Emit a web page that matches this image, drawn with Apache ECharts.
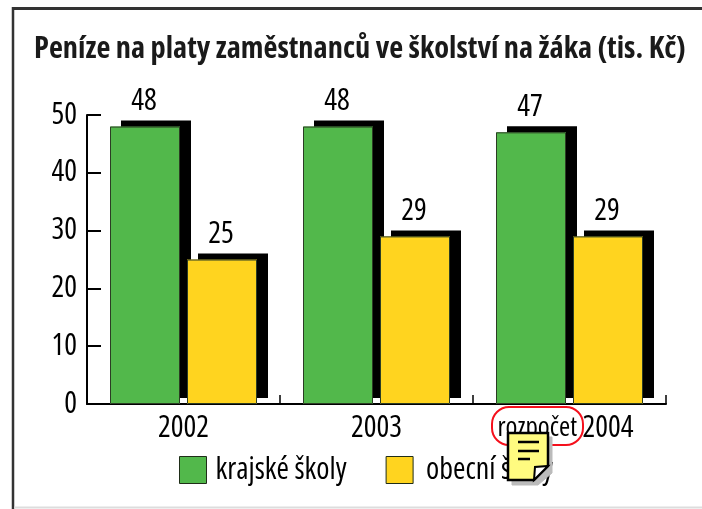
<!DOCTYPE html>
<html>
<head>
<meta charset="utf-8">
<style>html,body{margin:0;background:#fff}#chart{width:702px;height:509px}</style>
<script src="https://cdn.jsdelivr.net/npm/echarts@6/dist/echarts.min.js"></script>
</head>
<body>
<div id="chart"></div>
<script>
var years = ['2002', '2003', 'rozpočet 2004'];
var krajske = [48, 48, 47];
var obecni = [25, 29, 29];

var font = '"Open Sans", sans-serif';
var myChart = echarts.init(document.getElementById('chart'));

// stin zvlast bez ramecku, jinak by se stin ramecku kreslil pres vypln
function barStyle(color) {
    return {
        color: color,
        borderWidth: 0,
        shadowColor: '#000',
        shadowBlur: 0,
        shadowOffsetX: 11,
        shadowOffsetY: -6
    };
}

function valueLabel() {
    return { show: true, position: 'top', distance: 10, fontFamily: font, fontWeight: 'condensed', fontSize: 30, color: '#000', offset: [-1, 0] };
}

function outline(values) {
    return {
        type: 'bar',
        xAxisIndex: 1,
        barWidth: 70,
        barGap: '10%',
        silent: true,
        data: values,
        itemStyle: { color: 'transparent', borderColor: '#2c3d24', borderWidth: 1 }
    };
}

var option = {
    animation: false,
    title: {
        text: 'Peníze na platy zaměstnanců ve školství na žáka (tis. Kč)',
        left: 34,
        top: 34,
        padding: 0,
        textStyle: { fontFamily: font, fontWeight: 'condensed bold', fontSize: 30.4, color: '#1a1a1a' }
    },
    legend: {
        left: 179,
        top: 455,
        padding: 0,
        icon: 'rect',
        itemWidth: 27,
        itemHeight: 27,
        itemGap: 39,
        textStyle: { fontFamily: font, fontWeight: 'condensed', fontSize: 30, color: '#000' },
        itemStyle: { borderColor: '#1f2d18', borderWidth: 1, shadowBlur: 0, shadowOffsetX: 0, shadowOffsetY: 0, shadowColor: 'transparent' },
        data: [
            { name: 'krajské školy', textStyle: { padding: [0, 0, 0, 4] } },
            { name: 'obecní školy', textStyle: { padding: [0, 0, 0, 8] } }
        ]
    },
    grid: { left: 87, right: 36, top: 115, bottom: 105 },
    xAxis: [{
        type: 'category',
        data: years,
        axisLine: { lineStyle: { color: '#000', width: 2 } },
        axisTick: { show: true, inside: true, length: 9, lineStyle: { color: '#000', width: 1.5 } },
        axisLabel: {
            fontFamily: font,
            fontWeight: 'condensed',
            fontSize: 30,
            color: '#000',
            margin: 9,
            interval: 0,
            formatter: function (value) {
                var parts = value.split(' ');
                return parts.length > 1 ? '{note|' + parts[0] + '} {year|' + parts[1] + '}' : value;
            },
            rich: {
                note: { fontFamily: font, fontWeight: 'condensed', fontSize: 27, color: '#000' },
                year: { fontFamily: font, fontWeight: 'condensed', fontSize: 30, color: '#000', padding: [0, 8, 0, 0] }
            }
        }
    }, {
        type: 'category',
        data: years,
        position: 'bottom',
        show: false
    }],
    yAxis: [{
        type: 'value',
        min: 0,
        max: 50,
        interval: 10,
        axisLine: { show: true, lineStyle: { color: '#000', width: 2 } },
        axisTick: { show: true, inside: true, length: 14, lineStyle: { color: '#000', width: 2 } },
        axisLabel: { fontFamily: font, fontWeight: 'condensed', fontSize: 30, color: '#000', margin: 10 },
        splitLine: { show: false }
    }],
    series: [
        {
            name: 'krajské školy',
            type: 'bar',
            barWidth: 70,
            barGap: '10%',
            data: krajske,
            itemStyle: barStyle('#52b84b'),
            label: valueLabel()
        },
        {
            name: 'obecní školy',
            type: 'bar',
            barWidth: 70,
            data: obecni,
            itemStyle: barStyle('#ffd41f'),
            label: valueLabel()
        },
        outline(krajske),
        outline(obecni)
    ],
    graphic: [
        // ramecek
        { type: 'line', z: 0, shape: { x1: 13, y1: 8.5, x2: 702, y2: 8.5 }, style: { stroke: '#333', lineWidth: 3 } },
        { type: 'line', z: 0, shape: { x1: 13, y1: 7, x2: 13, y2: 509 }, style: { stroke: '#333', lineWidth: 2.5 } },
        { type: 'line', z: 0, shape: { x1: 14, y1: 507.5, x2: 702, y2: 507.5 }, style: { stroke: '#ddd', lineWidth: 2 } },
        { type: 'rect', z: 21, shape: { x: 492, y: 407, width: 91, height: 38, r: 17 }, style: { fill: 'none', stroke: '#f5101c', lineWidth: 2 } },
        // ikona poznamky
        { type: 'polygon', z: 30, shape: { points: [[512, 437], [552, 437], [552, 473], [538, 485], [512, 485]] }, style: { fill: '#bbb', stroke: '#bbb' } },
        { type: 'polygon', z: 31, shape: { points: [[508, 433], [548, 433], [548, 466], [534, 480], [508, 480]] }, style: { fill: '#fffb80', stroke: '#000', lineWidth: 2.5 } },
        { type: 'polygon', z: 32, shape: { points: [[534, 480], [535, 467], [548, 466]] }, style: { fill: '#fff', stroke: '#000', lineWidth: 2 } },
        { type: 'line', z: 32, shape: { x1: 518, y1: 442, x2: 539, y2: 442 }, style: { stroke: '#000', lineWidth: 2.5 } },
        { type: 'line', z: 32, shape: { x1: 518, y1: 451, x2: 539, y2: 451 }, style: { stroke: '#000', lineWidth: 2.5 } },
        { type: 'line', z: 32, shape: { x1: 518, y1: 459, x2: 530, y2: 459 }, style: { stroke: '#000', lineWidth: 2.5 } }
    ]
};

myChart.setOption(option);
</script>
</body>
</html>
